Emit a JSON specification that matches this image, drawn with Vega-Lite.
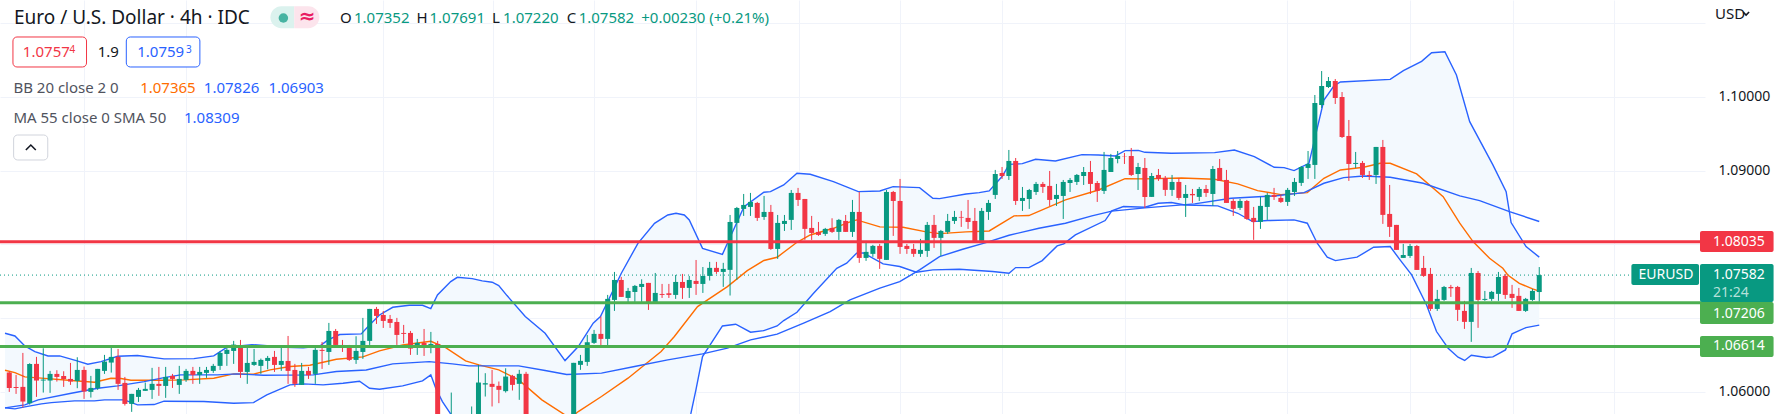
{
"$schema":"https://vega.github.io/schema/vega-lite/v6.json",
"width":1705,"height":414,
"padding":{"left":0,"top":0,"right":82,"bottom":0},
"autosize":{"type":"none","contains":"content"},
"background":"#ffffff",
"config":{"view":{"stroke":null},"font":"Noto Sans"},
"datasets":{
"candles":[
{"bar":0,"open":1.06259,"high":1.06273,"low":1.05997,"close":1.06051},
{"bar":1,"open":1.06065,"high":1.06228,"low":1.0597,"close":1.06051},
{"bar":2,"open":1.06065,"high":1.06526,"low":1.05785,"close":1.05866},
{"bar":3,"open":1.05843,"high":1.06386,"low":1.05825,"close":1.06377},
{"bar":4,"open":1.06377,"high":1.06472,"low":1.05929,"close":1.06151},
{"bar":5,"open":1.06151,"high":1.06589,"low":1.05988,"close":1.06164},
{"bar":6,"open":1.06151,"high":1.06282,"low":1.05984,"close":1.06241},
{"bar":7,"open":1.06241,"high":1.06291,"low":1.06137,"close":1.062},
{"bar":8,"open":1.06214,"high":1.06277,"low":1.06065,"close":1.06173},
{"bar":9,"open":1.06173,"high":1.0639,"low":1.06092,"close":1.06137},
{"bar":10,"open":1.06146,"high":1.06467,"low":1.06047,"close":1.06295},
{"bar":11,"open":1.06295,"high":1.06341,"low":1.05902,"close":1.06002},
{"bar":12,"open":1.05997,"high":1.06214,"low":1.0592,"close":1.06051},
{"bar":13,"open":1.06047,"high":1.06309,"low":1.06024,"close":1.06309},
{"bar":14,"open":1.06282,"high":1.06499,"low":1.06241,"close":1.06408},
{"bar":15,"open":1.06395,"high":1.06603,"low":1.06259,"close":1.06472},
{"bar":16,"open":1.06472,"high":1.0658,"low":1.06024,"close":1.06106},
{"bar":17,"open":1.06119,"high":1.062,"low":1.05812,"close":1.05834},
{"bar":18,"open":1.05834,"high":1.0597,"low":1.05726,"close":1.0597},
{"bar":19,"open":1.05929,"high":1.06051,"low":1.05861,"close":1.06024},
{"bar":20,"open":1.06011,"high":1.06124,"low":1.06011,"close":1.06038},
{"bar":21,"open":1.06024,"high":1.06323,"low":1.05902,"close":1.06106},
{"bar":22,"open":1.06106,"high":1.06336,"low":1.05943,"close":1.06078},
{"bar":23,"open":1.06078,"high":1.06336,"low":1.05916,"close":1.062},
{"bar":24,"open":1.06214,"high":1.06241,"low":1.06051,"close":1.06173},
{"bar":25,"open":1.06092,"high":1.0635,"low":1.0597,"close":1.06173},
{"bar":26,"open":1.0616,"high":1.06309,"low":1.06133,"close":1.06282},
{"bar":27,"open":1.06282,"high":1.06336,"low":1.06106,"close":1.06228},
{"bar":28,"open":1.06228,"high":1.06336,"low":1.06106,"close":1.06268},
{"bar":29,"open":1.06255,"high":1.06336,"low":1.06187,"close":1.06295},
{"bar":30,"open":1.06282,"high":1.06377,"low":1.06255,"close":1.0635},
{"bar":31,"open":1.0635,"high":1.06553,"low":1.06295,"close":1.06526},
{"bar":32,"open":1.06512,"high":1.06634,"low":1.0635,"close":1.06567},
{"bar":33,"open":1.06553,"high":1.06689,"low":1.06377,"close":1.06639},
{"bar":34,"open":1.06594,"high":1.06702,"low":1.06187,"close":1.06268},
{"bar":35,"open":1.06268,"high":1.06603,"low":1.06106,"close":1.0639},
{"bar":36,"open":1.06363,"high":1.0658,"low":1.0635,"close":1.06404},
{"bar":37,"open":1.0635,"high":1.06449,"low":1.06241,"close":1.06431},
{"bar":38,"open":1.06417,"high":1.06485,"low":1.06304,"close":1.06458},
{"bar":39,"open":1.06472,"high":1.06553,"low":1.06268,"close":1.06363},
{"bar":40,"open":1.06363,"high":1.06594,"low":1.06282,"close":1.06417},
{"bar":41,"open":1.06417,"high":1.06756,"low":1.06106,"close":1.06282},
{"bar":42,"open":1.06295,"high":1.06377,"low":1.06065,"close":1.06106},
{"bar":43,"open":1.06092,"high":1.0639,"low":1.06092,"close":1.06282},
{"bar":44,"open":1.06282,"high":1.06336,"low":1.06173,"close":1.06223},
{"bar":45,"open":1.06241,"high":1.06594,"low":1.06106,"close":1.06567},
{"bar":46,"open":1.06567,"high":1.06675,"low":1.06309,"close":1.06553},
{"bar":47,"open":1.06539,"high":1.06933,"low":1.06363,"close":1.06824},
{"bar":48,"open":1.06824,"high":1.06851,"low":1.06607,"close":1.06634},
{"bar":49,"open":1.06634,"high":1.06702,"low":1.06539,"close":1.06616},
{"bar":50,"open":1.06594,"high":1.06634,"low":1.06417,"close":1.06431},
{"bar":51,"open":1.06431,"high":1.06752,"low":1.06377,"close":1.06553},
{"bar":52,"open":1.06539,"high":1.07001,"low":1.06445,"close":1.06689},
{"bar":53,"open":1.06689,"high":1.07123,"low":1.06634,"close":1.07123},
{"bar":54,"open":1.07123,"high":1.0715,"low":1.06919,"close":1.07028},
{"bar":55,"open":1.07041,"high":1.07095,"low":1.06865,"close":1.0696},
{"bar":56,"open":1.06987,"high":1.07041,"low":1.06865,"close":1.06933},
{"bar":57,"open":1.06946,"high":1.07001,"low":1.06634,"close":1.0677},
{"bar":58,"open":1.06797,"high":1.06906,"low":1.06657,"close":1.06784},
{"bar":59,"open":1.06797,"high":1.06824,"low":1.06499,"close":1.06585},
{"bar":60,"open":1.06594,"high":1.06716,"low":1.06499,"close":1.06662},
{"bar":61,"open":1.06662,"high":1.06851,"low":1.06485,"close":1.0663},
{"bar":62,"open":1.0663,"high":1.06811,"low":1.06521,"close":1.06648},
{"bar":63,"open":1.06648,"high":1.06689,"low":1.0549,"close":1.0553},
{"bar":64,"open":1.0553,"high":1.0558,"low":1.0541,"close":1.0548},
{"bar":65,"open":1.0548,"high":1.05988,"low":1.0536,"close":1.0552},
{"bar":66,"open":1.0552,"high":1.0563,"low":1.0531,"close":1.0541},
{"bar":67,"open":1.0541,"high":1.0562,"low":1.0533,"close":1.0552},
{"bar":68,"open":1.0552,"high":1.05799,"low":1.054,"close":1.056},
{"bar":69,"open":1.0552,"high":1.06364,"low":1.0548,"close":1.06124},
{"bar":70,"open":1.06097,"high":1.06251,"low":1.05934,"close":1.06115},
{"bar":71,"open":1.06106,"high":1.06296,"low":1.05799,"close":1.06065},
{"bar":72,"open":1.06079,"high":1.06138,"low":1.05844,"close":1.06025},
{"bar":73,"open":1.06007,"high":1.06318,"low":1.05988,"close":1.06205},
{"bar":74,"open":1.06214,"high":1.06228,"low":1.06016,"close":1.06092},
{"bar":75,"open":1.06106,"high":1.06296,"low":1.05889,"close":1.06242},
{"bar":76,"open":1.06242,"high":1.06269,"low":1.0545,"close":1.0552},
{"bar":77,"open":1.0552,"high":1.056,"low":1.0535,"close":1.0542},
{"bar":78,"open":1.0542,"high":1.0552,"low":1.0527,"close":1.0533},
{"bar":79,"open":1.0533,"high":1.0548,"low":1.0522,"close":1.053},
{"bar":80,"open":1.053,"high":1.0545,"low":1.0518,"close":1.0539},
{"bar":81,"open":1.0539,"high":1.055,"low":1.0526,"close":1.0531},
{"bar":82,"open":1.0531,"high":1.0547,"low":1.0521,"close":1.054},
{"bar":83,"open":1.0541,"high":1.06391,"low":1.0535,"close":1.06391},
{"bar":84,"open":1.06364,"high":1.06499,"low":1.06296,"close":1.06418},
{"bar":85,"open":1.06404,"high":1.0677,"low":1.0635,"close":1.06671},
{"bar":86,"open":1.06662,"high":1.06838,"low":1.06648,"close":1.06784},
{"bar":87,"open":1.06784,"high":1.07019,"low":1.0663,"close":1.06716},
{"bar":88,"open":1.06716,"high":1.07313,"low":1.0663,"close":1.07259},
{"bar":89,"open":1.07245,"high":1.07625,"low":1.07096,"close":1.07516},
{"bar":90,"open":1.07516,"high":1.07557,"low":1.07286,"close":1.07286},
{"bar":91,"open":1.07272,"high":1.07408,"low":1.07204,"close":1.07367},
{"bar":92,"open":1.07353,"high":1.07448,"low":1.07218,"close":1.07435},
{"bar":93,"open":1.07421,"high":1.07525,"low":1.07218,"close":1.07462},
{"bar":94,"open":1.07476,"high":1.07476,"low":1.07109,"close":1.07218},
{"bar":95,"open":1.07218,"high":1.07611,"low":1.07218,"close":1.0734},
{"bar":96,"open":1.07326,"high":1.07462,"low":1.07272,"close":1.07313},
{"bar":97,"open":1.07335,"high":1.07462,"low":1.07272,"close":1.07313},
{"bar":98,"open":1.07313,"high":1.07584,"low":1.07259,"close":1.07489},
{"bar":99,"open":1.07489,"high":1.07598,"low":1.07259,"close":1.07408},
{"bar":100,"open":1.07408,"high":1.0757,"low":1.07272,"close":1.07516},
{"bar":101,"open":1.07503,"high":1.07787,"low":1.07313,"close":1.07462},
{"bar":102,"open":1.07462,"high":1.07692,"low":1.0734,"close":1.0757},
{"bar":103,"open":1.07571,"high":1.07761,"low":1.07508,"close":1.0768},
{"bar":104,"open":1.0768,"high":1.07761,"low":1.07598,"close":1.07625},
{"bar":105,"open":1.07625,"high":1.07748,"low":1.07422,"close":1.07666},
{"bar":106,"open":1.07653,"high":1.08398,"low":1.07305,"close":1.08303},
{"bar":107,"open":1.0829,"high":1.08507,"low":1.07517,"close":1.08493},
{"bar":108,"open":1.0848,"high":1.08683,"low":1.08385,"close":1.08534},
{"bar":109,"open":1.08507,"high":1.08697,"low":1.08385,"close":1.08575},
{"bar":110,"open":1.08561,"high":1.08575,"low":1.08317,"close":1.08358},
{"bar":111,"open":1.08371,"high":1.08656,"low":1.08331,"close":1.08439},
{"bar":112,"open":1.08439,"high":1.08534,"low":1.07924,"close":1.07937},
{"bar":113,"open":1.07937,"high":1.08398,"low":1.07802,"close":1.0829},
{"bar":114,"open":1.08276,"high":1.08398,"low":1.08181,"close":1.08317},
{"bar":115,"open":1.08331,"high":1.08737,"low":1.08195,"close":1.08697},
{"bar":116,"open":1.08697,"high":1.08765,"low":1.0852,"close":1.08602},
{"bar":117,"open":1.08615,"high":1.08615,"low":1.08059,"close":1.08209},
{"bar":118,"open":1.08222,"high":1.08385,"low":1.08059,"close":1.08154},
{"bar":119,"open":1.08168,"high":1.08303,"low":1.08114,"close":1.08127},
{"bar":120,"open":1.08141,"high":1.08222,"low":1.08114,"close":1.08209},
{"bar":121,"open":1.08222,"high":1.08353,"low":1.08154,"close":1.08168},
{"bar":122,"open":1.08168,"high":1.08344,"low":1.08059,"close":1.08331},
{"bar":123,"open":1.08317,"high":1.08398,"low":1.08168,"close":1.08168},
{"bar":124,"open":1.08168,"high":1.08602,"low":1.081,"close":1.08439},
{"bar":125,"open":1.08439,"high":1.0871,"low":1.07748,"close":1.07815},
{"bar":126,"open":1.07815,"high":1.08046,"low":1.07775,"close":1.07897},
{"bar":127,"open":1.0787,"high":1.07992,"low":1.07829,"close":1.07978},
{"bar":128,"open":1.07978,"high":1.08005,"low":1.07666,"close":1.07802},
{"bar":129,"open":1.07788,"high":1.08737,"low":1.07788,"close":1.0871},
{"bar":130,"open":1.0871,"high":1.08724,"low":1.08114,"close":1.08588},
{"bar":131,"open":1.08588,"high":1.08887,"low":1.0787,"close":1.07964},
{"bar":132,"open":1.07978,"high":1.08005,"low":1.0787,"close":1.07937},
{"bar":133,"open":1.07937,"high":1.08005,"low":1.07829,"close":1.0787},
{"bar":134,"open":1.0787,"high":1.08073,"low":1.07829,"close":1.07924},
{"bar":135,"open":1.0791,"high":1.08303,"low":1.07829,"close":1.08263},
{"bar":136,"open":1.08263,"high":1.08398,"low":1.07951,"close":1.08087},
{"bar":137,"open":1.08087,"high":1.08195,"low":1.07842,"close":1.08181},
{"bar":138,"open":1.08168,"high":1.08412,"low":1.08141,"close":1.08317},
{"bar":139,"open":1.08317,"high":1.08453,"low":1.08276,"close":1.08371},
{"bar":140,"open":1.08371,"high":1.08453,"low":1.08236,"close":1.08362},
{"bar":141,"open":1.08358,"high":1.08602,"low":1.08209,"close":1.08303},
{"bar":142,"open":1.08317,"high":1.08493,"low":1.08046,"close":1.08046},
{"bar":143,"open":1.08046,"high":1.08493,"low":1.08046,"close":1.08453},
{"bar":144,"open":1.08439,"high":1.08602,"low":1.08331,"close":1.08561},
{"bar":145,"open":1.0867,"high":1.09009,"low":1.08615,"close":1.08954},
{"bar":146,"open":1.08968,"high":1.09049,"low":1.08887,"close":1.08927},
{"bar":147,"open":1.08927,"high":1.0928,"low":1.08873,"close":1.09131},
{"bar":148,"open":1.09131,"high":1.09171,"low":1.08534,"close":1.08588},
{"bar":149,"open":1.08588,"high":1.08778,"low":1.08453,"close":1.08629},
{"bar":150,"open":1.08615,"high":1.08751,"low":1.0848,"close":1.08737},
{"bar":151,"open":1.0871,"high":1.08846,"low":1.0867,"close":1.08819},
{"bar":152,"open":1.08819,"high":1.08846,"low":1.08697,"close":1.08778},
{"bar":153,"open":1.08792,"high":1.08995,"low":1.0852,"close":1.08602},
{"bar":154,"open":1.08615,"high":1.08819,"low":1.0852,"close":1.0867},
{"bar":155,"open":1.08656,"high":1.08873,"low":1.08344,"close":1.08846},
{"bar":156,"open":1.08832,"high":1.089,"low":1.0871,"close":1.08873},
{"bar":157,"open":1.08846,"high":1.08954,"low":1.08805,"close":1.08941},
{"bar":158,"open":1.08927,"high":1.09049,"low":1.08805,"close":1.08981},
{"bar":159,"open":1.08981,"high":1.09131,"low":1.08683,"close":1.08819},
{"bar":160,"open":1.08832,"high":1.08859,"low":1.08575,"close":1.08724},
{"bar":161,"open":1.08724,"high":1.09253,"low":1.08683,"close":1.09009},
{"bar":162,"open":1.08981,"high":1.09226,"low":1.08981,"close":1.09171},
{"bar":163,"open":1.09158,"high":1.09266,"low":1.09099,"close":1.09198},
{"bar":164,"open":1.09198,"high":1.09239,"low":1.0909,"close":1.09194},
{"bar":165,"open":1.09198,"high":1.09307,"low":1.08927,"close":1.08941},
{"bar":166,"open":1.08954,"high":1.09104,"low":1.08737,"close":1.09049},
{"bar":167,"open":1.09036,"high":1.09171,"low":1.08493,"close":1.08642},
{"bar":168,"open":1.08643,"high":1.08968,"low":1.08643,"close":1.08927},
{"bar":169,"open":1.08941,"high":1.09022,"low":1.0886,"close":1.08887},
{"bar":170,"open":1.089,"high":1.08927,"low":1.08656,"close":1.08738},
{"bar":171,"open":1.08738,"high":1.08941,"low":1.08656,"close":1.08846},
{"bar":172,"open":1.08846,"high":1.089,"low":1.08602,"close":1.08629},
{"bar":173,"open":1.08629,"high":1.08805,"low":1.08371,"close":1.08683},
{"bar":174,"open":1.08683,"high":1.08751,"low":1.08561,"close":1.08665},
{"bar":175,"open":1.08643,"high":1.08778,"low":1.08588,"close":1.08751},
{"bar":176,"open":1.08751,"high":1.08805,"low":1.08643,"close":1.08697},
{"bar":177,"open":1.08683,"high":1.09063,"low":1.08521,"close":1.09022},
{"bar":178,"open":1.09036,"high":1.09158,"low":1.0886,"close":1.0886},
{"bar":179,"open":1.08873,"high":1.09009,"low":1.08561,"close":1.08561},
{"bar":180,"open":1.08588,"high":1.08616,"low":1.08385,"close":1.0848},
{"bar":181,"open":1.08494,"high":1.08616,"low":1.08466,"close":1.08588},
{"bar":182,"open":1.08588,"high":1.08602,"low":1.08331,"close":1.08344},
{"bar":183,"open":1.08358,"high":1.08507,"low":1.0806,"close":1.08304},
{"bar":184,"open":1.08304,"high":1.08643,"low":1.08209,"close":1.08521},
{"bar":185,"open":1.08507,"high":1.08697,"low":1.08331,"close":1.0867},
{"bar":186,"open":1.0867,"high":1.08765,"low":1.08602,"close":1.08643},
{"bar":187,"open":1.08629,"high":1.0867,"low":1.08561,"close":1.08575},
{"bar":188,"open":1.08575,"high":1.08765,"low":1.08521,"close":1.08738},
{"bar":189,"open":1.0871,"high":1.089,"low":1.08656,"close":1.08846},
{"bar":190,"open":1.08833,"high":1.09063,"low":1.08792,"close":1.09049},
{"bar":191,"open":1.09036,"high":1.09266,"low":1.08887,"close":1.0909},
{"bar":192,"open":1.09077,"high":1.10026,"low":1.08887,"close":1.09917},
{"bar":193,"open":1.0989,"high":1.10351,"low":1.0985,"close":1.10148},
{"bar":194,"open":1.10134,"high":1.1027,"low":1.10121,"close":1.10216},
{"bar":195,"open":1.10216,"high":1.10243,"low":1.09904,"close":1.09985},
{"bar":196,"open":1.09999,"high":1.10066,"low":1.09443,"close":1.09456},
{"bar":197,"open":1.0947,"high":1.09687,"low":1.0886,"close":1.0909},
{"bar":198,"open":1.0909,"high":1.09253,"low":1.09036,"close":1.09104},
{"bar":199,"open":1.09104,"high":1.09131,"low":1.089,"close":1.08941},
{"bar":200,"open":1.08941,"high":1.08995,"low":1.08873,"close":1.08927},
{"bar":201,"open":1.08941,"high":1.09321,"low":1.08819,"close":1.09321},
{"bar":202,"open":1.09321,"high":1.09416,"low":1.08277,"close":1.08399},
{"bar":203,"open":1.08412,"high":1.08805,"low":1.081,"close":1.08236},
{"bar":204,"open":1.08263,"high":1.08263,"low":1.07924,"close":1.07924},
{"bar":205,"open":1.07815,"high":1.08005,"low":1.07815,"close":1.07855},
{"bar":206,"open":1.07842,"high":1.08005,"low":1.07815,"close":1.07977},
{"bar":207,"open":1.07977,"high":1.07991,"low":1.07652,"close":1.07652},
{"bar":208,"open":1.07679,"high":1.07842,"low":1.07557,"close":1.07571},
{"bar":209,"open":1.07598,"high":1.07679,"low":1.07096,"close":1.07123},
{"bar":210,"open":1.07123,"high":1.07381,"low":1.07096,"close":1.07259},
{"bar":211,"open":1.07245,"high":1.07435,"low":1.07232,"close":1.07421},
{"bar":212,"open":1.07421,"high":1.07449,"low":1.07286,"close":1.07403},
{"bar":213,"open":1.07421,"high":1.07435,"low":1.0696,"close":1.0711},
{"bar":214,"open":1.07096,"high":1.07232,"low":1.06852,"close":1.06947},
{"bar":215,"open":1.06947,"high":1.07679,"low":1.06676,"close":1.07611},
{"bar":216,"open":1.07611,"high":1.07638,"low":1.06866,"close":1.07245},
{"bar":217,"open":1.07245,"high":1.07367,"low":1.07232,"close":1.07259},
{"bar":218,"open":1.07259,"high":1.07367,"low":1.07232,"close":1.07354},
{"bar":219,"open":1.07327,"high":1.07625,"low":1.07232,"close":1.07557},
{"bar":220,"open":1.07571,"high":1.07598,"low":1.07259,"close":1.07313},
{"bar":221,"open":1.07327,"high":1.07449,"low":1.07137,"close":1.07272},
{"bar":222,"open":1.073,"high":1.07408,"low":1.07096,"close":1.07096},
{"bar":223,"open":1.07096,"high":1.07272,"low":1.07082,"close":1.07259},
{"bar":224,"open":1.07245,"high":1.07394,"low":1.07232,"close":1.07367},
{"bar":225,"open":1.07352,"high":1.07691,"low":1.0722,"close":1.07582}
],
"studies":[
{"series":"upper","bar":-0.63,"price":1.06793},{"series":"upper","bar":0.83,"price":1.06756},{"series":"upper","bar":2.29,"price":1.0662},{"series":"upper","bar":3.76,"price":1.06544},{"series":"upper","bar":5.7,"price":1.06485},{"series":"upper","bar":7.41,"price":1.06485},{"series":"upper","bar":9.85,"price":1.06422},{"series":"upper","bar":11.55,"price":1.06372},{"series":"upper","bar":13.5,"price":1.06408},{"series":"upper","bar":15.94,"price":1.06481},{"series":"upper","bar":18.86,"price":1.0649},{"series":"upper","bar":22.76,"price":1.06445},{"series":"upper","bar":27.15,"price":1.06449},{"series":"upper","bar":30.07,"price":1.06485},{"series":"upper","bar":32.02,"price":1.06603},{"series":"upper","bar":35.68,"price":1.06639},{"series":"upper","bar":40.79,"price":1.06603},{"series":"upper","bar":43.23,"price":1.06594},{"series":"upper","bar":45.67,"price":1.0662},{"series":"upper","bar":46.88,"price":1.06702},{"series":"upper","bar":48.59,"price":1.06775},{"series":"upper","bar":51.76,"price":1.06784},{"series":"upper","bar":52.98,"price":1.06906},{"series":"upper","bar":54.44,"price":1.07041},{"series":"upper","bar":56.39,"price":1.07145},{"series":"upper","bar":58.82,"price":1.07172},{"series":"upper","bar":60.77,"price":1.07172},{"series":"upper","bar":61.99,"price":1.07127},{"series":"upper","bar":62.97,"price":1.07312},{"series":"upper","bar":64.92,"price":1.07494},{"series":"upper","bar":65.89,"price":1.07552},{"series":"upper","bar":68.08,"price":1.07534},{"series":"upper","bar":69.55,"price":1.07503},{"series":"upper","bar":71.01,"price":1.07485},{"series":"upper","bar":71.98,"price":1.0744},{"series":"upper","bar":73.2,"price":1.07304},{"series":"upper","bar":75.88,"price":1.0702},{"series":"upper","bar":78.8,"price":1.06793},{"series":"upper","bar":81.73,"price":1.06422},{"series":"upper","bar":83.68,"price":1.06612},{"series":"upper","bar":85.87,"price":1.06929},{"series":"upper","bar":86.94,"price":1.0702},{"series":"upper","bar":90.01,"price":1.07607},{"series":"upper","bar":92.45,"price":1.08013},{"series":"upper","bar":94.89,"price":1.08285},{"series":"upper","bar":96.84,"price":1.08398},{"series":"upper","bar":98.05,"price":1.0842},{"series":"upper","bar":99.27,"price":1.08398},{"series":"upper","bar":100,"price":1.0833},{"series":"upper","bar":101.95,"price":1.07945},{"series":"upper","bar":104.88,"price":1.07864},{"series":"upper","bar":105.61,"price":1.08014},{"series":"upper","bar":108.05,"price":1.08511},{"series":"upper","bar":110.97,"price":1.08706},{"series":"upper","bar":111.94,"price":1.08715},{"series":"upper","bar":113.89,"price":1.08805},{"series":"upper","bar":115.84,"price":1.08963},{"series":"upper","bar":117.79,"price":1.0895},{"series":"upper","bar":121.2,"price":1.0885},{"series":"upper","bar":124.86,"price":1.08715},{"series":"upper","bar":128.03,"price":1.08724},{"series":"upper","bar":129.98,"price":1.08783},{"series":"upper","bar":133.87,"price":1.08769},{"series":"upper","bar":135.82,"price":1.08624},{"series":"upper","bar":136.8,"price":1.0862},{"series":"upper","bar":140.7,"price":1.08683},{"series":"upper","bar":142.64,"price":1.08701},{"series":"upper","bar":144.11,"price":1.08724},{"series":"upper","bar":146.06,"price":1.08927},{"series":"upper","bar":147.03,"price":1.09085},{"series":"upper","bar":148.98,"price":1.09094},{"series":"upper","bar":150.93,"price":1.09153},{"series":"upper","bar":153.85,"price":1.09131},{"series":"upper","bar":157.75,"price":1.09217},{"series":"upper","bar":160.19,"price":1.09212},{"series":"upper","bar":162.63,"price":1.09198},{"series":"upper","bar":164.09,"price":1.09271},{"series":"upper","bar":166.04,"price":1.09275},{"series":"upper","bar":167.01,"price":1.09248},{"series":"upper","bar":170.91,"price":1.09235},{"series":"upper","bar":177.25,"price":1.09244},{"series":"upper","bar":180.17,"price":1.0928},{"series":"upper","bar":183.1,"price":1.0919},{"series":"upper","bar":186.02,"price":1.09045},{"series":"upper","bar":187.48,"price":1.0904},{"series":"upper","bar":188.94,"price":1.09},{"series":"upper","bar":191.13,"price":1.09099},{"series":"upper","bar":193.33,"price":1.09958},{"series":"upper","bar":194.79,"price":1.10148},{"series":"upper","bar":195.76,"price":1.10202},{"series":"upper","bar":203.08,"price":1.10238},{"series":"upper","bar":205.02,"price":1.10356},{"series":"upper","bar":207.7,"price":1.10482},{"series":"upper","bar":209.17,"price":1.106},{"series":"upper","bar":211.12,"price":1.10613},{"series":"upper","bar":212.82,"price":1.10297},{"series":"upper","bar":214.77,"price":1.09664},{"series":"upper","bar":218.18,"price":1.09077},{"series":"upper","bar":220.13,"price":1.08715},{"series":"upper","bar":220.86,"price":1.08295},{"series":"upper","bar":223.06,"price":1.07969},{"series":"upper","bar":225,"price":1.07826},
{"series":"lower","bar":-0.63,"price":1.0578},{"series":"lower","bar":0.83,"price":1.05767},{"series":"lower","bar":2.29,"price":1.05794},{"series":"lower","bar":4.73,"price":1.05834},{"series":"lower","bar":6.19,"price":1.05852},{"series":"lower","bar":9.6,"price":1.05875},{"series":"lower","bar":12.53,"price":1.05875},{"series":"lower","bar":14,"price":1.05889},{"series":"lower","bar":16.91,"price":1.05889},{"series":"lower","bar":18.86,"price":1.05821},{"series":"lower","bar":21.3,"price":1.05825},{"series":"lower","bar":22.76,"price":1.05871},{"series":"lower","bar":28.61,"price":1.05866},{"series":"lower","bar":32.99,"price":1.05843},{"series":"lower","bar":35.92,"price":1.05852},{"series":"lower","bar":37.87,"price":1.05956},{"series":"lower","bar":41.28,"price":1.06092},{"series":"lower","bar":43.23,"price":1.06106},{"series":"lower","bar":46.15,"price":1.06092},{"series":"lower","bar":49.08,"price":1.06115},{"series":"lower","bar":51.51,"price":1.06142},{"series":"lower","bar":52.98,"price":1.06047},{"series":"lower","bar":54.44,"price":1.06033},{"series":"lower","bar":57.85,"price":1.06078},{"series":"lower","bar":60.77,"price":1.06146},{"series":"lower","bar":61.99,"price":1.06228},{"series":"lower","bar":62.72,"price":1.06047},{"series":"lower","bar":63.7,"price":1.05866},{"series":"lower","bar":65.16,"price":1.05663},{"series":"lower","bar":67,"price":1.0552},{"series":"lower","bar":70,"price":1.0538},{"series":"lower","bar":75,"price":1.0525},{"series":"lower","bar":80,"price":1.0518},{"series":"lower","bar":85,"price":1.0512},{"series":"lower","bar":90,"price":1.051},{"series":"lower","bar":95,"price":1.0515},{"series":"lower","bar":99,"price":1.053},{"series":"lower","bar":100.25,"price":1.05708},{"series":"lower","bar":100.98,"price":1.06025},{"series":"lower","bar":101.95,"price":1.06477},{"series":"lower","bar":104.88,"price":1.06892},{"series":"lower","bar":106.83,"price":1.06915},{"series":"lower","bar":109.02,"price":1.06807},{"series":"lower","bar":110.97,"price":1.06829},{"series":"lower","bar":112.92,"price":1.06892},{"series":"lower","bar":113.89,"price":1.06965},{"series":"lower","bar":115.84,"price":1.07078},{"series":"lower","bar":118.28,"price":1.07335},{"series":"lower","bar":121.69,"price":1.07674},{"series":"lower","bar":123.15,"price":1.07743},{"series":"lower","bar":124.61,"price":1.07879},{"series":"lower","bar":125.59,"price":1.07883},{"series":"lower","bar":128.51,"price":1.07734},{"series":"lower","bar":130.95,"price":1.07698},{"series":"lower","bar":133.39,"price":1.07621},{"series":"lower","bar":135.82,"price":1.07653},{"series":"lower","bar":139.72,"price":1.07662},{"series":"lower","bar":144.6,"price":1.0763},{"series":"lower","bar":147.03,"price":1.07607},{"series":"lower","bar":148,"price":1.07684},{"series":"lower","bar":149.95,"price":1.07684},{"series":"lower","bar":151.91,"price":1.07779},{"series":"lower","bar":154.1,"price":1.07978},{"series":"lower","bar":155.07,"price":1.08005},{"series":"lower","bar":156.78,"price":1.08127},{"series":"lower","bar":161.16,"price":1.08322},{"series":"lower","bar":162.14,"price":1.08453},{"series":"lower","bar":163.85,"price":1.08512},{"series":"lower","bar":167.01,"price":1.08503},{"series":"lower","bar":168.96,"price":1.08557},{"series":"lower","bar":170.91,"price":1.08566},{"series":"lower","bar":172.86,"price":1.08534},{"series":"lower","bar":177.73,"price":1.08521},{"series":"lower","bar":180.66,"price":1.08421},{"series":"lower","bar":182.85,"price":1.08308},{"series":"lower","bar":185.04,"price":1.08322},{"series":"lower","bar":188.94,"price":1.08331},{"series":"lower","bar":190.89,"price":1.08286},{"series":"lower","bar":192.35,"price":1.08014},{"series":"lower","bar":193.82,"price":1.07825},{"series":"lower","bar":195.03,"price":1.07779},{"series":"lower","bar":198.2,"price":1.07825},{"series":"lower","bar":200.64,"price":1.0796},{"series":"lower","bar":203.08,"price":1.07969},{"series":"lower","bar":204.53,"price":1.07788},{"series":"lower","bar":206.24,"price":1.07584},{"series":"lower","bar":208.43,"price":1.07177},{"series":"lower","bar":209.89,"price":1.06816},{"series":"lower","bar":211.6,"price":1.0659},{"series":"lower","bar":213.06,"price":1.06468},{"series":"lower","bar":214.03,"price":1.06423},{"series":"lower","bar":215.01,"price":1.06495},{"series":"lower","bar":217.2,"price":1.06463},{"series":"lower","bar":218.18,"price":1.06472},{"series":"lower","bar":220.03,"price":1.06567},{"series":"lower","bar":221,"price":1.06784},{"series":"lower","bar":223.05,"price":1.0687},{"series":"lower","bar":225,"price":1.06903},
{"series":"basis","bar":-0.63,"price":1.06291},{"series":"basis","bar":0.83,"price":1.06259},{"series":"basis","bar":2.29,"price":1.062},{"series":"basis","bar":4.24,"price":1.06187},{"series":"basis","bar":9.12,"price":1.06151},{"series":"basis","bar":12.53,"price":1.06128},{"series":"basis","bar":14.96,"price":1.06182},{"series":"basis","bar":16.43,"price":1.06178},{"series":"basis","bar":17.89,"price":1.06155},{"series":"basis","bar":22.27,"price":1.06155},{"series":"basis","bar":25.69,"price":1.0616},{"series":"basis","bar":30.07,"price":1.06182},{"series":"basis","bar":33,"price":1.06241},{"series":"basis","bar":35.92,"price":1.06237},{"series":"basis","bar":38.36,"price":1.06295},{"series":"basis","bar":41.28,"price":1.06341},{"series":"basis","bar":44.2,"price":1.06359},{"series":"basis","bar":48.1,"price":1.0644},{"series":"basis","bar":52,"price":1.06472},{"series":"basis","bar":54.44,"price":1.06553},{"series":"basis","bar":57.85,"price":1.06634},{"series":"basis","bar":61.99,"price":1.06684},{"series":"basis","bar":64.18,"price":1.06597},{"series":"basis","bar":67.11,"price":1.06418},{"series":"basis","bar":69.06,"price":1.06364},{"series":"basis","bar":71.98,"price":1.06296},{"series":"basis","bar":74.91,"price":1.0616},{"series":"basis","bar":78.32,"price":1.05889},{"series":"basis","bar":81.49,"price":1.05699},{"series":"basis","bar":82.46,"price":1.0564},{"series":"basis","bar":83.68,"price":1.0573},{"series":"basis","bar":87.09,"price":1.05934},{"series":"basis","bar":90.99,"price":1.06183},{"series":"basis","bar":95.86,"price":1.06544},{"series":"basis","bar":97.81,"price":1.06748},{"series":"basis","bar":101.22,"price":1.07155},{"series":"basis","bar":105.61,"price":1.07426},{"series":"basis","bar":108.53,"price":1.07643},{"series":"basis","bar":110.97,"price":1.0778},{"series":"basis","bar":112.92,"price":1.07824},{"series":"basis","bar":115.84,"price":1.08027},{"series":"basis","bar":117.79,"price":1.08126},{"series":"basis","bar":121.2,"price":1.08217},{"series":"basis","bar":123.64,"price":1.08303},{"series":"basis","bar":124.61,"price":1.08331},{"series":"basis","bar":128.03,"price":1.08236},{"series":"basis","bar":131.44,"price":1.08231},{"series":"basis","bar":134.85,"price":1.08168},{"series":"basis","bar":136.8,"price":1.08145},{"series":"basis","bar":140.7,"price":1.08168},{"series":"basis","bar":144.11,"price":1.08181},{"series":"basis","bar":147.76,"price":1.08385},{"series":"basis","bar":149.95,"price":1.0839},{"series":"basis","bar":155.32,"price":1.08602},{"series":"basis","bar":160.19,"price":1.08737},{"series":"basis","bar":164.09,"price":1.08891},{"series":"basis","bar":167.01,"price":1.08887},{"series":"basis","bar":172.37,"price":1.089},{"series":"basis","bar":177.25,"price":1.08882},{"series":"basis","bar":180.66,"price":1.08819},{"series":"basis","bar":183.58,"price":1.08729},{"series":"basis","bar":187,"price":1.08674},{"series":"basis","bar":190.89,"price":1.08701},{"series":"basis","bar":193.33,"price":1.08896},{"series":"basis","bar":195.76,"price":1.09009},{"series":"basis","bar":199.18,"price":1.09045},{"series":"basis","bar":201.61,"price":1.09099},{"series":"basis","bar":203.08,"price":1.09099},{"series":"basis","bar":206.97,"price":1.08955},{"series":"basis","bar":210.87,"price":1.08647},{"series":"basis","bar":213.31,"price":1.08286},{"series":"basis","bar":215.26,"price":1.08037},{"series":"basis","bar":217.69,"price":1.0781},{"series":"basis","bar":219.64,"price":1.07675},{"series":"basis","bar":220.37,"price":1.07584},{"series":"basis","bar":222.07,"price":1.07471},{"series":"basis","bar":224.02,"price":1.07394},{"series":"basis","bar":225,"price":1.07365},
{"series":"ma","bar":-0.63,"price":1.0578},{"series":"ma","bar":2.29,"price":1.05821},{"series":"ma","bar":4.24,"price":1.05889},{"series":"ma","bar":9.12,"price":1.05979},{"series":"ma","bar":13.02,"price":1.06047},{"series":"ma","bar":15.94,"price":1.06078},{"series":"ma","bar":19.84,"price":1.06137},{"series":"ma","bar":22.76,"price":1.06191},{"series":"ma","bar":25.2,"price":1.06228},{"series":"ma","bar":30.56,"price":1.06228},{"series":"ma","bar":33.48,"price":1.06241},{"series":"ma","bar":37.38,"price":1.06223},{"series":"ma","bar":44.69,"price":1.06228},{"series":"ma","bar":48.1,"price":1.06273},{"series":"ma","bar":52.49,"price":1.06295},{"series":"ma","bar":56.39,"price":1.06377},{"series":"ma","bar":61.75,"price":1.06408},{"series":"ma","bar":65.16,"price":1.06377},{"series":"ma","bar":67.6,"price":1.0635},{"series":"ma","bar":74.91,"price":1.0635},{"series":"ma","bar":78.8,"price":1.06287},{"series":"ma","bar":81.97,"price":1.06233},{"series":"ma","bar":87.09,"price":1.06251},{"series":"ma","bar":91.96,"price":1.06341},{"series":"ma","bar":96.84,"price":1.06431},{"series":"ma","bar":101.95,"price":1.06513},{"series":"ma","bar":105.61,"price":1.0659},{"series":"ma","bar":109.02,"price":1.06703},{"series":"ma","bar":112.92,"price":1.0678},{"series":"ma","bar":116.82,"price":1.06929},{"series":"ma","bar":120.72,"price":1.07087},{"series":"ma","bar":123.64,"price":1.07245},{"series":"ma","bar":128.03,"price":1.07404},{"series":"ma","bar":130.95,"price":1.07494},{"series":"ma","bar":133.87,"price":1.07653},{"series":"ma","bar":136.8,"price":1.07833},{"series":"ma","bar":140.21,"price":1.07933},{"series":"ma","bar":143.62,"price":1.08023},{"series":"ma","bar":147.03,"price":1.08123},{"series":"ma","bar":151.42,"price":1.08218},{"series":"ma","bar":155.32,"price":1.08285},{"series":"ma","bar":159.21,"price":1.08385},{"series":"ma","bar":162.14,"price":1.0845},{"series":"ma","bar":167.01,"price":1.08494},{"series":"ma","bar":174.32,"price":1.08548},{"series":"ma","bar":179.68,"price":1.08625},{"series":"ma","bar":186.02,"price":1.08656},{"series":"ma","bar":190.41,"price":1.08701},{"series":"ma","bar":193.33,"price":1.08828},{"series":"ma","bar":196.25,"price":1.08905},{"series":"ma","bar":199.18,"price":1.08927},{"series":"ma","bar":203.08,"price":1.08909},{"series":"ma","bar":207.95,"price":1.08828},{"series":"ma","bar":213.31,"price":1.08656},{"series":"ma","bar":216.23,"price":1.08593},{"series":"ma","bar":220.62,"price":1.08444},{"series":"ma","bar":225,"price":1.08309}
],
"levels":[{"price":1.08035,"tone":"red"},{"price":1.07206,"tone":"green"},{"price":1.06614,"tone":"green"}],
"tags":[
{"bar":248.64,"bar2":259.46,"price":1.0818,"price2":1.07896,"tone":"red"},
{"bar":238.55,"bar2":248.5,"price":1.07733,"price2":1.07448,"tone":"teal"},
{"bar":248.64,"bar2":259.46,"price":1.07733,"price2":1.07217,"tone":"teal"},
{"bar":248.64,"bar2":259.46,"price":1.07217,"price2":1.06919,"tone":"green"},
{"bar":248.64,"bar2":259.46,"price":1.06756,"price2":1.06471,"tone":"green"}
],
"tagText":[
{"bar":250.55,"price":1.08035,"label":"1.08035","tone":"white"},
{"bar":239.6,"price":1.07583,"label":"EURUSD","tone":"white"},
{"bar":250.55,"price":1.07583,"label":"1.07582","tone":"white"},
{"bar":250.55,"price":1.07339,"label":"21:24","tone":"faded"},
{"bar":250.55,"price":1.07054,"label":"1.07206","tone":"white"},
{"bar":250.55,"price":1.0662,"label":"1.06614","tone":"white"}
],
"frames":[
{"bar":0.54,"bar2":11.36,"price":1.10813,"price2":1.10406,"tone":"red"},
{"bar":17.21,"bar2":28.03,"price":1.10813,"price2":1.10406,"tone":"blue"},
{"bar":0.64,"bar2":5.66,"price":1.09483,"price2":1.09144,"tone":"gray"}
],
"header":[
{"bar":48.64,"price":1.11071,"label":"O","tone":"ink"},
{"bar":50.69,"price":1.11071,"label":"1.07352","tone":"teal"},
{"bar":59.9,"price":1.11071,"label":"H","tone":"ink"},
{"bar":61.8,"price":1.11071,"label":"1.07691","tone":"teal"},
{"bar":71,"price":1.11071,"label":"L","tone":"ink"},
{"bar":72.62,"price":1.11071,"label":"1.07220","tone":"teal"},
{"bar":82,"price":1.11071,"label":"C","tone":"ink"},
{"bar":83.73,"price":1.11071,"label":"1.07582","tone":"teal"},
{"bar":92.94,"price":1.11071,"label":"+0.00230 (+0.21%)","tone":"teal"},
{"bar":2,"price":1.10609,"label":"1.0757","tone":"red"},
{"bar":13,"price":1.10609,"label":"1.9","tone":"ink"},
{"bar":18.82,"price":1.10609,"label":"1.0759","tone":"blue"},
{"bar":0.61,"price":1.1012,"label":"BB 20 close 2 0","tone":"slate"},
{"bar":19.25,"price":1.1012,"label":"1.07365","tone":"orange"},
{"bar":28.61,"price":1.1012,"label":"1.07826","tone":"blue"},
{"bar":38.11,"price":1.1012,"label":"1.06903","tone":"blue"},
{"bar":0.61,"price":1.09713,"label":"MA 55 close 0 SMA 50","tone":"slate"},
{"bar":25.69,"price":1.09713,"label":"1.08309","tone":"blue"},
{"bar":250.85,"price":1.11125,"label":"USD","tone":"ink"}
],
"superscripts":[
{"bar":8.87,"price":1.10636,"label":"4","tone":"red"},
{"bar":25.98,"price":1.10636,"label":"3","tone":"blue"}
],
"chevrons":[
{"shape":"collapse","bar":2.44,"price":1.0928},{"shape":"collapse","bar":3.17,"price":1.09347},{"shape":"collapse","bar":3.9,"price":1.0928},
{"shape":"currency","bar":254.98,"price":1.11152},{"shape":"currency","bar":255.42,"price":1.11111},{"shape":"currency","bar":255.86,"price":1.11152}
]
},
"encoding":{
"x":{"field":"bar","type":"quantitative","scale":{"domain":[-0.6287,248.64],"nice":false,"zero":false},
"axis":{"title":null,"values":[10.92,25.98,54.93,71.15,85.92,100.98,116.18,130.95,146,164.14,187.97,205.95,221.15,236.06],"labels":false,"ticks":false,"domain":false,"grid":true,"gridColor":"#f0f3fa"}},
"y":{"field":"price","type":"quantitative","scale":{"domain":[1.05697,1.11315],"nice":false,"zero":false},
"axis":{"title":null,"orient":"right","values":[1.06,1.07,1.08,1.09,1.1,1.11],"ticks":false,"domain":false,"grid":true,"gridColor":"#f0f3fa","labelPadding":13,"labelFontSize":14,"labelColor":"#131722","labelFont":"Noto Sans","labelExpr":"(datum.value==1.06||datum.value==1.09||datum.value==1.1)?format(datum.value,'.5f'):''"}},
"color":{"field":"tone","type":"nominal","legend":null,
"scale":{"domain":["ink","slate","teal","red","blue","orange","green","white","faded","upper","lower","ma","basis"],"range":["#131722","#50535e","#089981","#f23645","#2962ff","#ff6d00","#4caf50","#ffffff","#b5e0d9","#2962ff","#2962ff","#2962ff","#ff6d00"]}}
},
"layer":[
{"data":{"name":"studies"},
 "transform":[{"filter":"datum.series==='upper'||datum.series==='lower'"},{"calculate":"datum.series==='upper'?datum.bar:1000-datum.bar","as":"ring"}],
 "mark":{"type":"line","fill":"#f3f9fe","stroke":null,"clip":true},
 "encoding":{"color":{"value":"#f3f9fe"},"order":{"field":"ring","type":"quantitative"}}},
{"data":{"values":[{"price":1.07582}]},
 "mark":{"type":"rule","strokeWidth":1,"strokeDash":[1,3]},
 "encoding":{"x":null,"color":{"value":"#089981"}}},
{"data":{"name":"studies"},
 "mark":{"type":"line","strokeWidth":1.4,"clip":true},
 "encoding":{"color":{"field":"series","type":"nominal","legend":null,"scale":{"domain":["ink","slate","teal","red","blue","orange","green","white","faded","upper","lower","ma","basis"],"range":["#131722","#50535e","#089981","#f23645","#2962ff","#ff6d00","#4caf50","#ffffff","#b5e0d9","#2962ff","#2962ff","#2962ff","#ff6d00"]}}}},
{"data":{"name":"candles"},
 "mark":{"type":"rule","strokeWidth":1,"clip":true},
 "encoding":{"y":{"field":"low","type":"quantitative","scale":{"domain":[1.05697,1.11315],"nice":false,"zero":false},
 "axis":{"title":null,"orient":"right","values":[1.06,1.07,1.08,1.09,1.1,1.11],"ticks":false,"domain":false,"grid":true,"gridColor":"#f0f3fa","labelPadding":13,"labelFontSize":14,"labelColor":"#131722","labelFont":"Noto Sans","labelExpr":"(datum.value==1.06||datum.value==1.09||datum.value==1.1)?format(datum.value,'.5f'):''"}},"y2":{"field":"high"},
 "color":{"condition":{"test":"datum.close>=datum.open","value":"#089981"},"value":"#f23645"}}},
{"data":{"name":"candles"},
 "mark":{"type":"bar","size":5,"clip":true},
 "encoding":{"y":{"field":"open","type":"quantitative","scale":{"domain":[1.05697,1.11315],"nice":false,"zero":false},
 "axis":{"title":null,"orient":"right","values":[1.06,1.07,1.08,1.09,1.1,1.11],"ticks":false,"domain":false,"grid":true,"gridColor":"#f0f3fa","labelPadding":13,"labelFontSize":14,"labelColor":"#131722","labelFont":"Noto Sans","labelExpr":"(datum.value==1.06||datum.value==1.09||datum.value==1.1)?format(datum.value,'.5f'):''"}},"y2":{"field":"close"},
 "color":{"condition":{"test":"datum.close>=datum.open","value":"#089981"},"value":"#f23645"}}},
{"data":{"name":"levels"},
 "mark":{"type":"rule","strokeWidth":3},
 "encoding":{"x":null}},
{"data":{"name":"tags"},
 "mark":{"type":"rect","cornerRadius":2},
 "encoding":{"x2":{"field":"bar2"},"y2":{"field":"price2"}}},
{"data":{"name":"tagText"},
 "mark":{"type":"text","align":"left","baseline":"middle","fontSize":14,"font":"Noto Sans"},
 "encoding":{"text":{"field":"label"}}},
{"data":{"name":"frames"},
 "mark":{"type":"rect","cornerRadius":4,"fill":"#ffffff","strokeWidth":1},
 "encoding":{"x2":{"field":"bar2"},"y2":{"field":"price2"},"stroke":{"field":"tone","legend":null,"scale":{"domain":["red","blue","gray"],"range":["#f23645","#2962ff","#d1d4dc"]}},"color":{"value":"#ffffff"}}},
{"data":{"values":[{"bar":38.4,"bar2":41.9,"price":1.11231,"price2":1.10933}]},
 "mark":{"type":"rect","cornerRadiusTopLeft":11,"cornerRadiusBottomLeft":11},
 "encoding":{"x2":{"field":"bar2"},"y2":{"field":"price2"},"color":{"value":"#dbf2ee"}}},
{"data":{"values":[{"bar":41.9,"bar2":45.6,"price":1.11231,"price2":1.10933}]},
 "mark":{"type":"rect","cornerRadiusTopRight":11,"cornerRadiusBottomRight":11},
 "encoding":{"x2":{"field":"bar2"},"y2":{"field":"price2"},"color":{"value":"#fce4ec"}}},
{"data":{"values":[{"bar":40.31,"price":1.11071}]},
 "mark":{"type":"point","filled":true,"shape":"circle","size":90},
 "encoding":{"color":{"value":"#089981"}}},
{"data":{"values":[{"bar":43.8,"price":1.1108,"label":"≈"}]},
 "mark":{"type":"text","align":"center","baseline":"middle","fontSize":20,"fontWeight":"bold","font":"DejaVu Sans"},
 "encoding":{"text":{"field":"label"},"color":{"value":"#e91e63"}}},
{"data":{"values":[{"bar":0.69,"price":1.11071,"label":"Euro / U.S. Dollar · 4h · IDC"}]},
 "mark":{"type":"text","align":"left","baseline":"middle","fontSize":19,"font":"Noto Sans"},
 "encoding":{"text":{"field":"label"},"color":{"value":"#131722"}}},
{"data":{"name":"header"},
 "mark":{"type":"text","align":"left","baseline":"middle","fontSize":15,"font":"Noto Sans"},
 "encoding":{"text":{"field":"label"}}},
{"data":{"name":"superscripts"},
 "mark":{"type":"text","align":"left","baseline":"middle","fontSize":10,"font":"Noto Sans"},
 "encoding":{"text":{"field":"label"}}},
{"data":{"name":"chevrons"},
 "mark":{"type":"line","strokeWidth":1.6},
 "encoding":{"detail":{"field":"shape"},"color":{"value":"#131722"}}}
]
}
